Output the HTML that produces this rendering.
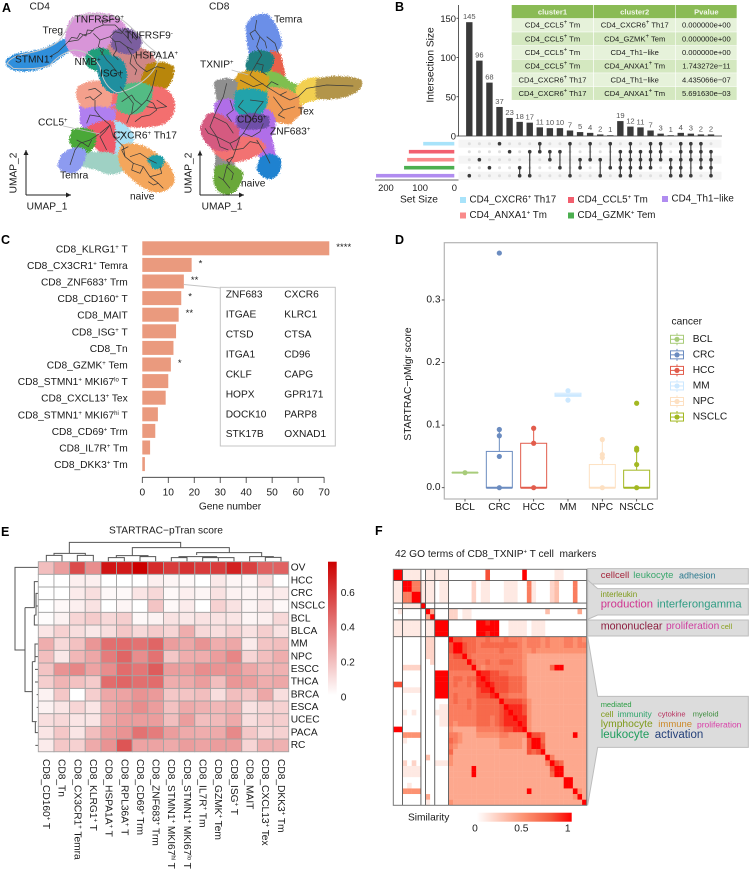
<!DOCTYPE html>
<html lang="en">
<head>
<meta charset="utf-8">
<title>T cell figure</title>
<style>
html,body{margin:0;padding:0;background:#fff;width:749px;height:869px;overflow:hidden}
svg{display:block}
text{font-family:"Liberation Sans",sans-serif;font-size:10.2px;fill:#1a1a1a;dominant-baseline:central;white-space:pre}
.s{font-size:6px;baseline-shift:2.5px}
.p{font-size:12.5px;font-weight:700;fill:#000}
.ax{stroke:#333;stroke-width:.8;fill:none}
.tr{fill:none;stroke:#3a3a3a;stroke-width:2.2;stroke-linejoin:round}
.dn{fill:none;stroke:#555;stroke-width:3}
.blob path{stroke-width:16;stroke-linejoin:round}
</style>
</head>
<body>
<svg id="fig" xmlns="http://www.w3.org/2000/svg" width="749" height="869" viewBox="0 0 749 869">
<defs>
<filter id="rough" x="-3%" y="-3%" width="106%" height="106%" color-interpolation-filters="sRGB">
<feTurbulence type="fractalNoise" baseFrequency=".3" numOctaves="2" seed="4" result="n"/>
<feDisplacementMap in="SourceGraphic" in2="n" scale="16" xChannelSelector="R" yChannelSelector="G"/>
</filter>
<marker id="ah" markerWidth="6" markerHeight="6" refX="5" refY="2.5" orient="auto"><path d="M0,0L5,2.5L0,5Z" fill="#222"/></marker>
<linearGradient id="gradE" x1="0" y1="0" x2="0" y2="1"><stop offset="0" stop-color="#cc0000"/><stop offset="1" stop-color="#ffffff"/></linearGradient>
<linearGradient id="gradF" x1="0" y1="0" x2="1" y2="0"><stop offset="0" stop-color="#ffffff"/><stop offset=".5" stop-color="#fc9272"/><stop offset=".78" stop-color="#f5583c"/><stop offset="1" stop-color="#ff0000"/></linearGradient>
</defs>

<!-- PANEL A -->
<text class="p" x="2" y="8">A</text>
<text x="29.5" y="7">CD4</text>
<text x="209" y="7">CD8</text>

<g transform="scale(.33333)">
<g class="blob" filter="url(#rough)">
<path fill="#2f8fdc" d="M25,185Q40,165 90,162Q140,155 170,135L215,115L230,130Q190,155 160,180Q130,205 70,207Q25,205 25,185Z"/>
<path fill="#d895d8" d="M220,60Q280,35 340,55Q375,75 375,100L345,150Q300,150 270,160L240,165Q215,160 205,130Q200,90 220,60Z"/>
<path fill="#cf8787" d="M330,140Q400,135 450,165Q470,200 450,230Q400,270 360,260Q340,230 330,170Z"/>
<path fill="#7b5e9f" d="M345,100Q380,80 415,110Q425,140 395,155Q350,155 340,135Z"/>
<path fill="#b8860b" d="M445,200Q490,185 515,205Q515,250 480,268Q445,265 430,240Z"/>
<path fill="#f36f6f" d="M330,290L450,270L440,340L330,340Z"/>
<path fill="#b07ff0" d="M245,320L345,320L340,345L250,345Z"/>
<path fill="#f4a08c" d="M240,265Q280,240 320,255Q340,285 320,320Q280,330 250,315Q230,290 240,265Z"/>
<path fill="#f36f6f" d="M450,265Q500,265 515,300Q525,340 490,365Q420,385 330,365Q310,345 340,325Q410,330 450,265Z"/>
<path fill="#53bb84" d="M365,265Q420,245 450,265Q455,300 420,330Q380,345 355,320Z"/>
<path fill="#1f9e7a" d="M265,165Q290,145 320,155Q335,180 310,205Q280,210 265,190Z"/>
<path fill="#1f8f9f" d="M300,175Q340,165 365,190Q385,240 355,272Q325,275 310,245Q295,210 300,175Z"/>
<path fill="#b07ff0" d="M250,335Q290,320 340,335L335,375Q290,395 260,385Q240,365 250,335Z"/>
<path fill="#a8e0f5" d="M330,370Q370,365 395,410L390,440Q370,465 345,455Q340,410 330,370Z"/>
<path fill="#f05a6a" d="M270,385Q310,365 335,370Q345,420 335,465Q310,460 285,430Q265,410 270,385Z"/>
<path fill="#9fd1c4" d="M250,455L300,470L300,505L240,490Z"/>
<path fill="#4aa838" d="M222,395Q260,385 280,405Q285,440 255,455Q220,445 215,420Z"/>
<path fill="#9fd1c4" d="M275,465Q320,460 345,470Q370,480 370,505Q330,525 300,505Z"/>
<path fill="#8d9bf0" d="M190,470Q220,440 250,455Q250,490 225,510Q190,515 180,495Z"/>
<path fill="#f4a65c" d="M370,440Q420,430 470,470Q520,510 515,545Q490,580 450,565Q400,540 370,500Q355,470 370,440Z"/>
<path fill="#1f9fa8" d="M450,480Q470,465 485,480Q485,500 465,500Z"/>
</g>
<path fill="none" stroke="#c8c8c8" stroke-width="3" d="M22,190Q30,170 80,160Q140,150 175,125Q195,100 220,55Q280,30 360,55Q395,80 420,110Q430,130 480,165Q470,215 420,250Q380,275 350,278Q310,260 300,200Q270,150 220,150Q180,160 150,195Q120,210 40,205Z"/>
<g>
<polyline class="tr" points="150,170 175,155 205,125 235,120 250,105 270,100 285,85 310,75 345,75 362,92 380,110 395,130"/>
<polyline class="tr" points="280,100 300,120 330,110 345,125 360,125 380,140 400,150"/>
<polyline class="tr" points="300,150 320,180 335,195 350,215 365,235"/>
<polyline class="tr" points="400,165 410,190 420,200 440,215 470,200 495,205"/>
<polyline class="tr" points="470,210 455,270 440,300 425,315 410,330 390,345 380,370"/>
<polyline class="tr" points="470,300 485,310 500,320 470,325 440,320"/>
<polyline class="tr" points="265,270 285,265 305,280 280,300 270,290 255,295"/>
<polyline class="tr" points="285,300 285,330 300,350 330,375 340,410 370,440 375,470 400,490 430,500 450,530 475,550 490,565"/>
<polyline class="tr" points="210,495 225,450 240,430 270,420 300,400 330,375"/>
<polyline class="tr" points="230,420 250,430 265,440 275,420"/>
<polyline class="tr" points="360,260 385,290 400,310 395,340"/>
<polyline class="tr" points="390,470 420,460 450,480 470,490"/>
<polyline class="tr" points="205,125 215,112 232,115 240,100 258,108 262,90 280,92"/>
<polyline class="tr" points="310,75 305,60 325,62 340,55"/>
<polyline class="tr" points="330,110 345,95 365,100 375,85 395,105 410,120"/>
<polyline class="tr" points="300,120 295,140 310,150 305,165"/>
<polyline class="tr" points="345,125 350,150 340,165 355,180"/>
<polyline class="tr" points="380,140 395,165 390,190 410,210 405,225"/>
<polyline class="tr" points="440,300 460,310 470,330 450,345 425,350 405,365"/>
<polyline class="tr" points="425,315 405,300 395,285 380,295 365,305"/>
<polyline class="tr" points="330,375 315,395 300,410 310,430 320,450"/>
<polyline class="tr" points="375,470 365,450 385,440"/>
<polyline class="tr" points="400,490 395,510 420,520 430,500"/>
<polyline class="tr" points="450,530 470,525 485,520 480,500"/>
<polyline class="tr" points="475,550 460,555 445,545"/>
<polyline class="tr" points="300,350 270,345 260,370"/>
<polyline class="tr" points="355,395 375,400 360,420"/>
</g>
<path class="tr" style="stroke:#bbb;stroke-width:2.5" d="M190,378L300,402"/>
<line x1="78" y1="585" x2="78" y2="450" stroke="#222" stroke-width="3" marker-end="url(#ah)"/>
<line x1="78" y1="585" x2="213" y2="585" stroke="#222" stroke-width="3" marker-end="url(#ah)"/>
</g>

<g transform="scale(.33333)">
<g class="blob" filter="url(#rough)">
<path fill="#6b8fe8" d="M745,80Q760,45 800,50Q835,90 838,135Q815,165 790,170L755,165Q745,110 745,80Z"/>
<path fill="#e8604a" d="M815,160L835,165L848,225L825,235Z"/>
<path fill="#d9a020" d="M745,215L810,215L800,240L730,240Z"/>
<path fill="#1f7f80" d="M755,165Q800,150 815,175Q810,215 780,225Q745,220 745,195Z"/>
<path fill="#7fbf4f" d="M860,250L900,265L890,295L860,285Z"/>
<path fill="#f09a55" d="M870,300L905,285L895,340L870,360Z"/>
<path fill="#f2cf50" d="M895,265Q920,235 960,240L965,290Q925,295 895,310Z"/>
<path fill="#b3954a" d="M955,243Q1020,228 1078,245Q1085,265 1040,282Q990,295 955,288Z"/>
<path fill="#7fbf4f" d="M795,225Q840,215 865,255Q870,280 820,285L795,270Z"/>
<path fill="#d9a020" d="M720,225Q770,210 800,235Q800,280 750,280Q710,270 705,250Z"/>
<path fill="#f09a55" d="M810,270Q860,265 890,295Q895,340 870,365Q830,365 805,340Z"/>
<path fill="#8f8f8f" d="M650,250Q680,235 705,250L700,300L660,320Z"/>
<path fill="#b06ee8" d="M650,315Q690,290 715,320L720,400L660,400Z"/>
<path fill="#b06ee8" d="M770,430L810,420L820,470L790,480Z"/>
<path fill="#b06ee8" d="M780,330Q815,330 820,370Q810,420 790,430Q740,430 710,400L715,345Z"/>
<path fill="#22a3ab" d="M712,280Q760,265 795,285Q800,330 760,345Q720,345 710,320Z"/>
<path fill="#6f4fa8" d="M715,355Q760,340 800,355L800,375Q760,385 720,378Z"/>
<path fill="#8f8f8f" d="M655,460L700,460L695,510L650,510Z"/>
<path fill="#f27272" d="M640,420Q700,410 770,420L790,440Q770,470 700,480Q660,475 640,440Z"/>
<path fill="#d55a80" d="M625,350Q660,335 710,390L710,430Q680,455 640,440Q605,410 610,380Z"/>
<path fill="#1f82d0" d="M785,480Q810,460 835,480Q840,520 810,530Q785,525 778,505Z"/>
<path fill="#6aa83a" d="M652,505Q690,490 722,520Q715,570 680,577Q650,570 648,535Z"/>
</g>
<g>
<polyline class="tr" points="770,60 765,90 780,110 770,140 785,165 770,190 750,225 770,240 800,260 840,285 870,300 895,290 920,265 980,255 1060,258"/>
<polyline class="tr" points="800,110 825,130 835,160"/>
<polyline class="tr" points="720,240 760,260 790,250"/>
<polyline class="tr" points="680,250 670,290 650,330 630,380 650,410 690,430 710,420 730,400 760,350"/>
<polyline class="tr" points="750,300 790,305 770,330 760,350"/>
<polyline class="tr" points="720,410 700,470 680,500 670,540 690,565"/>
<polyline class="tr" points="770,420 795,460 810,490"/>
<polyline class="tr" points="820,290 850,330 885,320"/>
<polyline class="tr" points="640,350 680,370 700,400"/>
<polyline class="tr" points="765,90 750,100 760,120"/>
<polyline class="tr" points="780,110 795,125 800,145"/>
<polyline class="tr" points="770,190 790,195 785,215 800,225"/>
<polyline class="tr" points="800,260 815,245 835,255"/>
<polyline class="tr" points="840,285 860,275"/>
<polyline class="tr" points="850,330 835,345 855,355"/>
<polyline class="tr" points="730,300 715,320 735,335 750,355"/>
<polyline class="tr" points="690,300 700,330 680,345 695,365"/>
<polyline class="tr" points="650,410 625,400 615,385"/>
<polyline class="tr" points="650,410 660,440 685,450"/>
<polyline class="tr" points="690,430 700,450 730,445 750,425 775,430"/>
<polyline class="tr" points="730,400 755,410 780,395 790,370"/>
<polyline class="tr" points="700,470 680,480 690,495"/>
<polyline class="tr" points="680,500 700,520 695,540"/>
<polyline class="tr" points="670,540 655,530"/>
</g>
<path class="tr" style="stroke:#bbb;stroke-width:2.5" d="M695,210L745,225"/>
<line x1="600" y1="585" x2="600" y2="452" stroke="#222" stroke-width="3" marker-end="url(#ah)"/>
<line x1="600" y1="585" x2="732" y2="585" stroke="#222" stroke-width="3" marker-end="url(#ah)"/>
</g>

<g>
<text x="42.5" y="31">Treg</text>
<text x="74.5" y="20">TNFRSF9<tspan class="s">+</tspan></text>
<text x="125" y="36">TNFRSF9<tspan class="s">-</tspan></text>
<text x="15" y="60">STMN1<tspan class="s">+</tspan></text>
<text x="74.5" y="62.5">NMB<tspan class="s">+</tspan></text>
<text x="100" y="74">ISG+</text>
<text x="135" y="56">HSPA1A<tspan class="s">+</tspan></text>
<text x="38" y="123">CCL5<tspan class="s">+</tspan></text>
<text x="113" y="136">CXCR6<tspan class="s">+</tspan> Th17</text>
<text x="60" y="176">Temra</text>
<text x="130" y="197">naive</text>
<text x="274" y="20">Temra</text>
<text x="200" y="65">TXNIP<tspan class="s">+</tspan></text>
<text x="298" y="112">Tex</text>
<text x="237" y="120">CD69<tspan class="s">+</tspan></text>
<text x="270" y="132">ZNF683<tspan class="s">+</tspan></text>
<text x="241" y="184">naive</text>
<text x="14" y="173" transform="rotate(-90 14 173)" text-anchor="middle">UMAP_2</text>
<text x="47" y="207" text-anchor="middle">UMAP_1</text>
<text x="189" y="173" transform="rotate(-90 189 173)" text-anchor="middle">UMAP_2</text>
<text x="222" y="207" text-anchor="middle">UMAP_1</text>
</g>

<!-- PANEL LABELS AND STATIC TITLES -->
<text class="p" x="395" y="7">B</text>
<text class="p" x="1" y="240">C</text>
<text class="p" x="395" y="240">D</text>
<text class="p" x="1" y="532">E</text>
<text class="p" x="375" y="531">F</text>

<text x="431" y="65" transform="rotate(-90 431 65)" text-anchor="middle">Intersection Size</text>
<text x="419" y="200" text-anchor="middle">Set Size</text>
<text x="230" y="507" text-anchor="middle">Gene number</text>
<text x="408.5" y="384" transform="rotate(-90 408.5 384)" text-anchor="middle">STARTRAC−pMigr score</text>
<text x="671.5" y="322">cancer</text>
<text x="166" y="531" text-anchor="middle">STARTRAC−pTran score</text>
<text x="395" y="554.5">42 GO terms of CD8_TXNIP<tspan class="s">+</tspan> T cell  markers</text>
<text x="408" y="818">Similarity</text>

<rect x="328" y="561.7" width="8.7" height="133.3" fill="url(#gradE)"/>
<rect x="476.7" y="812.7" width="95" height="9" fill="url(#gradF)"/>

<!-- F annotation boxes -->
<g transform="translate(375,530) scale(.33333)">
<g fill="#dcdcdc" stroke="#bdbdbd" stroke-width="3">
<path d="M638,116H1120V162H638Z"/>
<path d="M638,150L668,176H1120V255H668L638,268Z"/>
<path d="M638,270H1120V318H638Z"/>
<path d="M638,320L668,499H1120V652H668L638,826Z"/>
</g>
</g>
<g>
<text x="600.7" y="575.7" style="font-size:9.5px;fill:#a5243a">cellcell</text>
<text x="633.3" y="575.7" style="font-size:9.5px;fill:#3aa76d">leukocyte</text>
<text x="679" y="575.7" style="font-size:9px;fill:#2b7a8f">adhesion</text>
<text x="600.7" y="594.3" style="font-size:8px;fill:#7f9a1a">interleukin</text>
<text x="600.7" y="604.7" style="font-size:11.2px;fill:#d0338f">production</text>
<text x="657" y="604.7" style="font-size:11.2px;fill:#2f9c83">interferongamma</text>
<text x="600.7" y="626.3" style="font-size:10.7px;fill:#8d1d3f">mononuclear</text>
<text x="666" y="626.3" style="font-size:10.2px;fill:#cf3fa0">proliferation</text>
<text x="721" y="626.3" style="font-size:7.5px;fill:#8aa01e">cell</text>
<text x="600.7" y="704.7" style="font-size:7.5px;fill:#2d9e45">mediated</text>
<text x="600.7" y="714" style="font-size:8.5px;fill:#7f9a1a">cell</text>
<text x="617.7" y="714" style="font-size:8.5px;fill:#2fa56b">immunity</text>
<text x="658" y="714" style="font-size:7.5px;fill:#b8315e">cytokine</text>
<text x="692.7" y="714" style="font-size:7.5px;fill:#3c8c3c">myeloid</text>
<text x="600.7" y="724.3" style="font-size:10.3px;fill:#7f9a1a">lymphocyte</text>
<text x="658.3" y="724.3" style="font-size:9.5px;fill:#cc8a2a">immune</text>
<text x="697" y="724.3" style="font-size:8.5px;fill:#d83fa8">proliferation</text>
<text x="600.7" y="735" style="font-size:11.5px;fill:#1f9d5d">leukocyte</text>
<text x="654.7" y="735" style="font-size:11.5px;fill:#24407a">activation</text>
</g>

<!-- E dendrograms -->
<g transform="translate(0,515) scale(.33333)">
<path class="dn" d="M208,115V82H542V98M162,121V115H256V121M139,140V121H186V140M232,140V121H280V140M397,122V98H688V113M349,128V122H444V125M325,140V128H373V140M420,140V125H467V140M590,120V113H785V125M537,128V125H650V128M514,140V128H561V140M608,140V128H680M655,140V128M702,140V128H655M749,140V125H820V127M796,140V127H843V140"/>
</g>
<g transform="translate(0,515) scale(.33333)">
<path class="dn" d="M115,157H45V405H75M75,278V530H97M75,278H103V200H115M103,300H108V235H115M108,273H115M103,300V330H115M97,440V620H110M97,440H105V387H115M105,425H115M105,463H115M105,501H115M110,539H115M110,577H115M97,620H106V653H115M106,691H115"/>
</g>

<g id="layer"></g>
</svg>

<script>
document.querySelectorAll('.blob path').forEach(function (p) { p.setAttribute('stroke', p.getAttribute('fill')); });
// --- Panel B data
var upsetValues = [145,96,68,37,23,18,17,11,10,10,7,5,4,2,1,19,12,11,7,3,1,4,3,2,2];
var upsetMembers = [[4],[2],[3],[0],[1],[3,4],[1,4],[0,1],[1,2],[1,3],[0,4],[2,3],[0,2],[2,4],[0,3],[1,2,3,4],[0,1,2,3,4],[1,2,3],[0,1,2,3],[0,1,2],[2,3,4],[0,1,2,3,4],[0,1,2,4],[0,1,2,3],[1,2,3,4]];
var upsetTicks = [0,50,100,150];
var setNames = ['CD4_CXCR6^+ Th17','CD4_CCL5^+ Tm','CD4_ANXA1^+ Tm','CD4_GZMK^+ Tem','CD4_Th1−like'];
var setSizes = [91,133,138,147,229];
var setColors = ['#a8e3fa','#f25f6e','#f98a8a','#4caf50','#b08cf0'];
var setTicks = [0,100,200];
var tableHead = ['cluster1','cluster2','Pvalue'];
var tableCluster1 = ['CD4_CCL5^+ Tm','CD4_CCL5^+ Tm','CD4_CCL5^+ Tm','CD4_CCL5^+ Tm','CD4_CXCR6^+ Th17','CD4_CXCR6^+ Th17'];
var tableCluster2 = ['CD4_CXCR6^+ Th17','CD4_GZMK^+ Tem','CD4_Th1−like','CD4_ANXA1^+ Tm','CD4_Th1−like','CD4_ANXA1^+ Tm'];
var tablePvalue = ['0.000000e+00','0.000000e+00','0.000000e+00','1.743272e−11','4.435066e−07','5.691630e−03'];
// --- Panel C data
var barLabels = ['CD8_KLRG1^+ T','CD8_CX3CR1^+ Temra','CD8_ZNF683^+ Trm','CD8_CD160^+ T','CD8_MAIT','CD8_ISG^+ T','CD8_Tn','CD8_GZMK^+ Tem','CD8_STMN1^+ MKI67^lo T','CD8_CXCL13^+ Tex','CD8_STMN1^+ MKI67^hi T','CD8_CD69^+ Trm','CD8_IL7R^+ Tm','CD8_DKK3^+ Tm'];
var barValues = [72,19,16,15,14,13,12,11,10,9,6,5,3,1];
var barStars = ['****','*','**','*','**','','','*','','','','','',''];
var barTicks = [0,10,20,30,40,50,60,70];
var geneCol1 = ['ZNF683','ITGAE','CTSD','ITGA1','CKLF','HOPX','DOCK10','STK17B'];
var geneCol2 = ['CXCR6','KLRC1','CTSA','CD96','CAPG','GPR171','PARP8','OXNAD1'];
// --- Panel D data
var boxCats = ['BCL','CRC','HCC','MM','NPC','NSCLC'];
var boxColors = ['#a8cc7a','#6b8cc0','#e25c4c','#cce8ff','#fde0c2','#a3b822'];
var boxPoints = [[0.024],[0,0.05,0.083,0.093,0.375],[0,0.071,0.095],[0.14,0.155],[0,0.048,0.053,0.077],[0,0.037,0.06,0.063,0.135]];
var boxQ1 = [0.024,0,0,0.146,0,0];
var boxMedian = [0.024,0,0,0.148,0,0];
var boxQ3 = [0.024,0.058,0.071,0.151,0.037,0.028];
var boxWhisker = [0.024,0.093,0.095,0.155,0.077,0.063];
var boxTicks = [0,0.1,0.2,0.3];
// --- Panel E data
var heatRows = ['OV','HCC','CRC','NSCLC','BCL','BLCA','MM','NPC','ESCC','THCA','BRCA','ESCA','UCEC','PACA','RC'];
var heatCols = ['CD8_CD160^+ T','CD8_Tn','CD8_CX3CR1^+ Temra','CD8_KLRG1^+ T','CD8_HSPA1A^+ T','CD8_RPL36A^+ T','CD8_CD69^+ Trm','CD8_ZNF683^+ Trm','CD8_STMN1^+ MKI67^hi T','CD8_STMN1^+ MKI67^lo T','CD8_IL7R^+ Tm','CD8_GZMK^+ Tem','CD8_ISG^+ T','CD8_MAIT','CD8_CXCL13^+ Tex','CD8_DKK3^+ Tm'];
var heatValues = [
[.2,.3,.55,.35,.72,.7,.78,.65,.6,.63,.6,.6,.68,.58,.48,.48],
[0,0,.05,.05,0,0,0,.05,.03,.02,0,.07,.03,.02,.1,0],
[0,0,.06,.1,.02,.02,.08,.12,.02,.05,.03,.09,.04,.03,.05,.06],
[0,.02,.05,.09,0,.03,0,.18,.02,.06,0,.14,.09,.03,.07,.02],
[.01,.04,.13,.16,.12,.15,.02,.04,.09,.07,.09,.09,.08,.03,.05,.12],
[.08,.14,.1,.07,.1,.17,.12,.16,.13,.25,.12,.1,.14,.09,.15,.09],
[.25,.12,.19,.32,.44,.45,.43,.47,.3,.27,.33,.25,.27,.06,.18,.2],
[.2,.07,.22,.27,.4,.47,.35,.43,.17,.25,.25,.3,.37,.13,.2,.25],
[.18,.33,.37,.28,.35,.45,.42,.5,.3,.3,.35,.33,.33,.27,.23,.24],
[.15,.23,.19,.16,.45,.47,.44,.45,.25,.26,.3,.2,.32,.3,.25,.27],
[.04,.17,0,.15,.27,.28,.33,.31,.17,.18,.2,.1,.2,.17,.27,.1],
[.04,.08,.13,.08,.26,.3,.35,.3,.19,.26,.24,.22,.24,.09,.13,.14],
[.1,.12,.08,.08,.26,.3,.3,.3,.2,.3,.2,.21,.26,.1,.14,.15],
[.08,.17,.08,.2,.3,.33,.43,.4,.3,.26,.25,.26,.36,.17,.12,.14],
[.06,.17,.14,.26,.33,.52,.28,.28,.26,.3,.28,.3,.3,.13,.24,.24]
];
var heatLegendTicks = [0,0.2,0.4,0.6];
var heatMax = 0.78;
// --- Panel F data: each char is similarity in tenths, a = 1
var simRows = [
"aa 1111 0 11 111 000 000 00800 00000a 0000 001 10 0000",
"aa 1111 0 11 111 000 000 00800 00000a 0000 001 10 0000",
"11 aa66 1 11 011 000 002 01100 011100 6100 023 00 0600",
"11 aa66 1 11 011 000 002 01100 011100 6100 023 00 0600",
"11 66aa 1 11 011 000 002 01100 011100 6100 023 00 0600",
"11 66aa 1 11 011 000 002 01100 011100 6100 023 00 0600",
"00 1111 a 00 000 000 000 00000 000000 0000 000 00 0000",
"01 0000 0 a4 000 220 110 00000 000000 0000 300 00 0040",
"00 0000 0 4a 000 220 110 00000 000000 0000 000 00 0000",
"11 1111 0 11 aaa 000 000 aa9aa 001111 0111 000 00 0000",
"11 1111 0 11 aaa 000 000 aaaaa 001111 0111 000 00 0000",
"11 1111 0 11 aaa 000 000 aa9aa 001111 0111 000 00 0000",
"00 0000 0 22 000 a88 777 66766 676665 6665 655 56 6565",
"00 0000 0 22 000 8aa 877 67777 777765 6665 655 56 6566",
"00 0000 0 22 000 8aa 877 66666 766665 5655 555 55 5555",
"00 0000 0 22 000 788 a76 66666 666665 4444 444 44 4444",
"00 0000 0 02 000 777 7a7 66766 777665 4444 444 44 4444",
"00 2222 0 00 000 777 77a 65666 666665 4444 47a a4 4444",
"00 0000 0 00 aaa 666 666 a9988 776665 4444 444 44 4444",
"00 0000 0 00 aaa 677 677 9a988 887776 4444 444 44 4444",
"88 0000 0 00 aaa 676 676 99a98 887776 4444 444 44 4444",
"00 1111 0 00 aaa 666 666 899a8 887776 4444 444 44 4444",
"00 0000 0 00 aaa 676 666 8889a 776666 4444 444 44 4444",
"00 0000 0 00 000 676 676 77777 a88887 5444 444 44 4444",
"00 0000 0 00 011 666 676 77777 8a9998 5444 444 44 4444",
"00 1010 0 00 111 666 666 77777 89a998 5444 444 44 4444",
"00 0000 0 00 011 666 666 77767 899a99 5444 444 44 4444",
"00 0000 0 00 011 656 666 77767 8999a9 5444 444 44 4444",
"aa 0000 0 00 000 544 444 66666 78899a 5444 444 44 4444",
"00 5555 0 00 000 665 444 55555 665555 a887 444 44 4a44",
"00 1000 0 00 000 765 444 44444 555554 8aa7 444 44 4444",
"00 0000 0 00 000 654 444 44444 555554 8aa8 444 44 4444",
"00 0000 0 00 000 744 444 44444 444444 878a 444 44 4444",
"00 0000 0 30 000 544 444 44444 444444 4444 a64 44 4444",
"00 2020 0 00 111 544 444 44444 444444 4444 6a8 74 4444",
"00 1111 0 00 000 444 44a 44444 444444 4444 48a a4 4444",
"00 1111 0 00 000 444 44a 44444 444444 4444 47a a4 4444",
"00 0000 0 00 000 444 444 44444 444444 4444 444 4a a444",
"00 0100 0 00 000 444 444 44444 444444 4444 444 4a a444",
"00 5555 0 00 000 444 444 44444 444444 a444 444 44 4a54",
"00 0000 0 40 000 444 444 44444 444444 4444 444 44 45a4",
"00 0000 0 10 000 544 444 44444 444444 4444 444 44 444a"
];
var simClusters = [2,4,1,2,3,30];
var simTicks = [0,0.5,1];

var NS = 'http://www.w3.org/2000/svg';
var layer = document.getElementById('layer');
function mk(tag, attrs, style) {
  var e = document.createElementNS(NS, tag);
  for (var k in attrs) { e.setAttribute(k, attrs[k]); }
  if (style) { e.setAttribute('style', style); }
  layer.appendChild(e);
  return e;
}
function rich(e, str) {
  var parts = str.split(/(\^\S+)/);
  parts.forEach(function (p) {
    if (!p) { return; }
    if (p.charAt(0) === '^') {
      var t = document.createElementNS(NS, 'tspan');
      t.setAttribute('class', 's');
      t.textContent = p.slice(1);
      e.appendChild(t);
    } else {
      e.appendChild(document.createTextNode(p));
    }
  });
  return e;
}

// ----- Panel B: table
var tableX = [511.7, 594, 676];
var tableW = [81.6, 81.4, 60.7];
tableHead.forEach(function (h, c) {
  var r = mk('rect', {x: tableX[c], y: 5, width: tableW[c], height: 13.2, fill: '#8abb55'});
  
  
  var t = mk('text', {x: tableX[c] + tableW[c] / 2, y: 11.8, 'text-anchor': 'middle'}, 'font-size:7.6px;font-weight:700;fill:#f4f8ec');
  t.textContent = h;
  
  
});
tableCluster1.forEach(function (v, i) {
  var y = 18.6 + i * 13.65;
  [tableCluster1[i], tableCluster2[i], tablePvalue[i]].forEach(function (cell, c) {
    var r = mk('rect', {x: tableX[c], y: y, width: tableW[c], height: 13.1, fill: i % 2 ? '#d4e8c0' : '#e6f2da'});
    
    
    var t = mk('text', {x: tableX[c] + tableW[c] / 2, y: y + 6.6, 'text-anchor': 'middle'}, 'font-size:7.6px');
    rich(t, cell);
    
    
  });
});

// ----- Panel B: upset
function upX(i) { return 469.3 + i * 10.07; }
function upY(v) { return 136 - v * 0.785; }
function rowY(r) { return 143.7 + r * 8; }
function setX(v) { return 454.3 - v * 0.3417; }
[0, 2, 4].forEach(function (r) {
  var s = mk('rect', {x: 458.5, y: rowY(r) - 4, width: 263, height: 8, fill: '#f5f5f5'});
  
  
});
var ua = mk('path', {class: 'ax', d: 'M458.5,5V136H722'});


upsetTicks.forEach(function (v) {
  var tk = mk('line', {class: 'ax', x1: 456.5, x2: 458.5, y1: upY(v), y2: upY(v)});
  
  
  var t = mk('text', {x: 456, y: upY(v), 'text-anchor': 'end'}, 'font-size:9.4px');
  t.textContent = v;
  
  
});
upsetValues.forEach(function (v, i) {
  var b = mk('rect', {x: upX(i) - 3.2, y: upY(v), width: 6.4, height: 136 - upY(v), fill: '#3a3a3a'});
  
  
  var t = mk('text', {x: upX(i), y: upY(v) - 5.5, 'text-anchor': 'middle'}, 'font-size:7.6px;fill:#555');
  t.textContent = v;
  
  
  for (var r = 0; r < 5; r++) {
    var bg = mk('circle', {cx: upX(i), cy: rowY(r), r: 1.5, fill: '#dedede'});
    
    
  }
  var m = upsetMembers[i];
  if (m.length > 1) {
    var l = mk('line', {x1: upX(i), x2: upX(i), y1: rowY(Math.min.apply(null, m)), y2: rowY(Math.max.apply(null, m)), stroke: '#444', 'stroke-width': 1.2});
    
    
  }
  m.forEach(function (r) {
    var d = mk('circle', {cx: upX(i), cy: rowY(r), r: 1.8, fill: '#3a3a3a'});
    
    
  });
});
setSizes.forEach(function (v, r) {
  var b = mk('rect', {x: setX(v), y: rowY(r) - 1.8, width: 454.3 - setX(v), height: 3.6, fill: setColors[r]});
  
  
});
var sa = mk('line', {class: 'ax', x1: 375, x2: 458.5, y1: 180, y2: 180});


setTicks.forEach(function (v) {
  var t = mk('text', {x: setX(v), y: 187.5, 'text-anchor': 'middle'}, 'font-size:9.4px');
  t.textContent = v;
  
  
});
var setLegendX = [460, 568, 460, 568, 662];
var setLegendY = [200, 200, 215.5, 215.5, 199];
setNames.forEach(function (n, r) {
  var s = mk('rect', {x: setLegendX[r], y: setLegendY[r] - 3, width: 6, height: 6, fill: setColors[r]});
  
  
  var t = mk('text', {x: setLegendX[r] + 9.5, y: setLegendY[r]}, 'font-size:9.8px');
  rich(t, n);
  
  
});

// ----- Panel C
function cX(v) { return 142.3 + v * 2.597; }
function cY(i) { return 248.3 + i * 16.6; }
barValues.forEach(function (v, i) {
  var b = mk('rect', {x: cX(0), y: cY(i) - 7, width: cX(v) - cX(0), height: 14, fill: '#ea9a7e'});
  
  
  var t = mk('text', {x: 127.7, y: cY(i) + 1.5, 'text-anchor': 'end'});
  rich(t, barLabels[i]);
  
  
  if (barStars[i]) {
    var s = mk('text', {x: cX(v) + 7, y: cY(i) - 1, 'text-anchor': 'start'}, 'font-size:9.6px');
    s.textContent = barStars[i];
    
    
  }
});
var ca = mk('line', {class: 'ax', x1: cX(0), x2: cX(70), y1: 477.3, y2: 477.3});


barTicks.forEach(function (v) {
  var k = mk('line', {class: 'ax', x1: cX(v), x2: cX(v), y1: 477.3, y2: 483});
  
  
  var t = mk('text', {x: cX(v), y: 493, 'text-anchor': 'middle'});
  t.textContent = v;
  
  
});
var gl = mk('line', {x1: cX(barValues[2]), y1: cY(2) + 3, x2: 220.3, y2: 288, stroke: '#c4c4c4', 'stroke-width': 1});


var gb = mk('rect', {x: 220.3, y: 287.3, width: 115, height: 158.7, fill: '#fff', stroke: '#c4c4c4', 'stroke-width': 1});


geneCol1.forEach(function (g, i) {
  var a = mk('text', {x: 225.7, y: 295.2 + i * 19.93});
  a.textContent = g;
  
  
  var b2 = mk('text', {x: 284.3, y: 295.2 + i * 19.93});
  b2.textContent = geneCol2[i];
  
  
});

// ----- Panel D
function dX(i) { return 465 + i * 34.33; }
function dY(v) { return 487.7 - v * 625.7; }
var dp = mk('rect', {x: 444.3, y: 242.7, width: 213, height: 256.3, fill: '#fff', stroke: '#b4b4b4', 'stroke-width': 1.2});


boxTicks.forEach(function (v) {
  var k = mk('line', {class: 'ax', x1: 441.8, x2: 444.3, y1: dY(v), y2: dY(v)});
  
  
  var t = mk('text', {x: 440.5, y: dY(v), 'text-anchor': 'end'});
  t.textContent = v.toFixed(1);
  
  
});
boxCats.forEach(function (cat, i) {
  var col = boxColors[i];
  var k = mk('line', {class: 'ax', x1: dX(i), x2: dX(i), y1: 499, y2: 501.5});
  
  
  var t = mk('text', {x: dX(i), y: 507.5, 'text-anchor': 'middle'});
  t.textContent = cat;
  
  
  var w = mk('line', {x1: dX(i), x2: dX(i), y1: dY(boxQ3[i]), y2: dY(boxWhisker[i]), stroke: col, 'stroke-width': 1});
  
  
  var b = mk('rect', {x: dX(i) - 13, y: dY(boxQ3[i]), width: 26, height: Math.max(0.1, dY(boxQ1[i]) - dY(boxQ3[i])), fill: '#fff', stroke: col, 'stroke-width': 1});
  
  
  var m = mk('line', {x1: dX(i) - 13, x2: dX(i) + 13, y1: dY(boxMedian[i]), y2: dY(boxMedian[i]), stroke: col, 'stroke-width': 2});
  
  
  boxPoints[i].forEach(function (v) {
    var c = mk('circle', {cx: dX(i), cy: dY(v), r: 2.6, fill: col});
    
    
  });
  var ly = 339.3 + i * 15.55;
  var lv = mk('line', {x1: 677, x2: 677, y1: ly - 6, y2: ly + 6, stroke: col, 'stroke-width': 1});
  
  
  var lr = mk('rect', {x: 670.5, y: ly - 4, width: 13, height: 8, fill: '#fff', stroke: col, 'stroke-width': 1});
  
  
  var ll = mk('line', {x1: 670.5, x2: 683.5, y1: ly, y2: ly, stroke: col, 'stroke-width': 1});
  
  
  var lc = mk('circle', {cx: 677, cy: ly, r: 2.6, fill: col});
  
  
  var lt = mk('text', {x: 692.7, y: ly});
  lt.textContent = cat;
  
  
});

// ----- Panel E
function eX(c) { return 38.3 + c * 15.65; }
function eY(r) { return 561.7 + r * 12.67; }
function eColor(v) {
  var f = Math.max(0, Math.min(1, v / heatMax));
  var g = Math.round(255 * (1 - f));
  return 'rgb(' + Math.round(255 - 51 * f) + ',' + g + ',' + g + ')';
}
heatValues.forEach(function (row, r) {
  row.forEach(function (v, c) {
    var cell = mk('rect', {x: eX(c), y: eY(r), width: 15.65, height: 12.67, fill: eColor(v), stroke: '#a3a3a3', 'stroke-width': 0.9});
    
    
  });
  var t = mk('text', {x: 290.7, y: eY(r) + 6.5});
  t.textContent = heatRows[r];
  
  
});
heatCols.forEach(function (n, c) {
  var x = eX(c) + 7.2;
  var t = mk('text', {x: x, y: 759, transform: 'rotate(90 ' + x + ' 759)'});
  rich(t, n);
  
  
});
heatLegendTicks.forEach(function (v) {
  var t = mk('text', {x: 340.7, y: 698 - v * 174.5});
  t.textContent = v === 0 ? '0' : v.toFixed(1);
  
  
});

// ----- Panel F
var simW = 193.4 / 42, simH = 236 / 42;
function fX(i) { return 393.3 + i * simW; }
function fY(i) { return 569.3 + i * simH; }
var simStops = [[0,255,255,255],[0.5,252,146,114],[0.78,245,88,60],[1,255,0,0]];
function fColor(v) {
  for (var i = 1; i < simStops.length; i++) {
    if (v <= simStops[i][0]) {
      var a = simStops[i - 1], b = simStops[i], f = (v - a[0]) / (b[0] - a[0]);
      return 'rgb(' + Math.round(a[1] + (b[1] - a[1]) * f) + ',' + Math.round(a[2] + (b[2] - a[2]) * f) + ',' + Math.round(a[3] + (b[3] - a[3]) * f) + ')';
    }
  }
  return 'rgb(255,0,0)';
}
simRows.forEach(function (s, r) {
  var chars = s.replace(/ /g, '');
  for (var c = 0; c < chars.length; c++) {
    var v = chars.charAt(c) === 'a' ? 1 : Number(chars.charAt(c)) / 10;
    var cell = mk('rect', {x: fX(c), y: fY(r), width: simW + 0.2, height: simH + 0.2, fill: fColor(v)});
    
    
  }
});
var simEdge = 0;
simClusters.forEach(function (n) {
  simEdge += n;
  if (simEdge >= 42) { return; }
  var lv = mk('line', {x1: fX(simEdge), x2: fX(simEdge), y1: fY(0), y2: fY(42), stroke: '#555', 'stroke-width': 0.9});
  
  
  var lh = mk('line', {x1: fX(0), x2: fX(42), y1: fY(simEdge), y2: fY(simEdge), stroke: '#555', 'stroke-width': 0.9});
  
  
});
var ff = mk('rect', {x: fX(0), y: fY(0), width: 193.4, height: 236, fill: 'none', stroke: '#777', 'stroke-width': 1});


simTicks.forEach(function (v) {
  var t = mk('text', {x: 475 + v * 92.7, y: 829, 'text-anchor': 'middle'});
  t.textContent = v;
  
  
});
</script>
</body>
</html>
